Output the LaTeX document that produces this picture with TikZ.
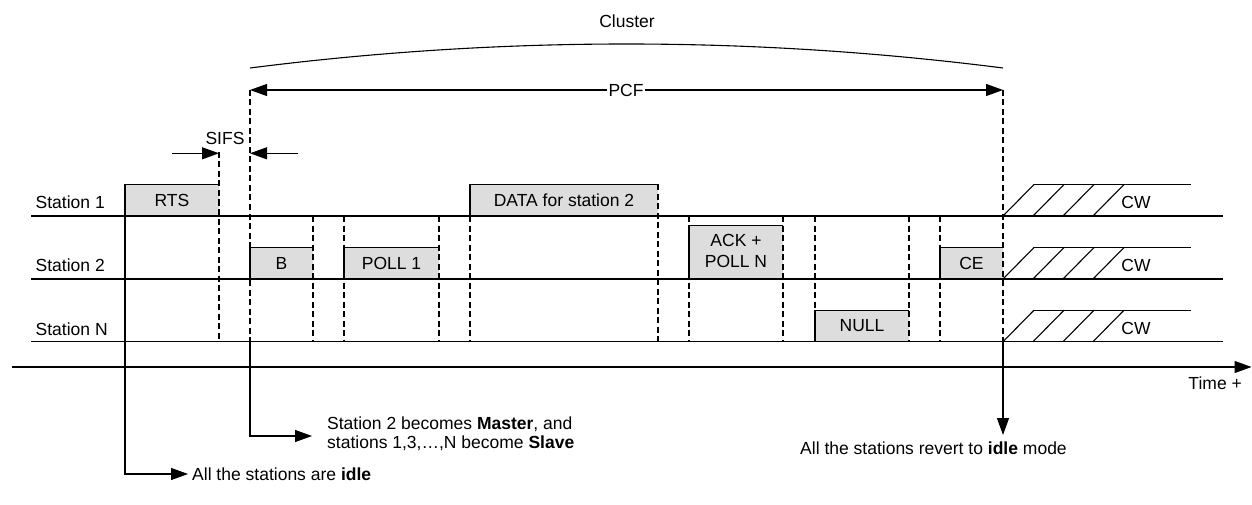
\documentclass[tikz,border=0pt]{standalone}
\usepackage{fontspec}
\setmainfont{Liberation Sans}
\usetikzlibrary{arrows.meta}
\definecolor{boxgray}{RGB}{221,221,221}
\begin{document}
\begin{tikzpicture}[x=1pt,y=-1pt,
  txt/.style={inner sep=0pt,font=\fontsize{17.5}{20}\selectfont},
  tline/.style={line width=1.1pt},
  thindash/.style={line width=1.2pt,dash pattern=on 6pt off 3.5pt},
  thickdash/.style={line width=2pt,dash pattern=on 6pt off 3.5pt},
  arr/.style={-{Triangle[length=17pt,width=12pt]},line width=1.1pt}]
\useasboundingbox (0,0) rectangle (1252,505);

% box fills
\fill[boxgray] (125,184.3) rectangle (219,216);
\fill[boxgray] (250,247.7) rectangle (313,279);
\fill[boxgray] (344,247.7) rectangle (439,279);
\fill[boxgray] (470,184.3) rectangle (658,216);
\fill[boxgray] (689,225.7) rectangle (783,279);
\fill[boxgray] (815,310.3) rectangle (909,341.7);
\fill[boxgray] (940,247.7) rectangle (1003,279);

% box outlines (top and left)
\draw[tline] (125,216) |- (219,184.3);
\draw[tline] (250,279) |- (313,247.7);
\draw[tline] (344,279) |- (439,247.7);
\draw[tline] (470,216) |- (658,184.3);
\draw[tline] (689,279) |- (783,225.7);
\draw[tline] (815,341.7) |- (909,310.3);
\draw[tline] (940,279) |- (1003,247.7);

% dashed verticals
\draw[thindash] (219,152) -- (219,341.7);
\draw[thindash] (250,90) -- (250,341.7);
\draw[thindash] (313,216) -- (313,341.7);
\draw[thindash] (344,216) -- (344,341.7);
\draw[thindash] (439,216) -- (439,341.7);
\draw[thickdash] (470,216) -- (470,341.7);
\draw[thickdash] (658,184.3) -- (658,341.7);
\draw[thindash] (689,216) -- (689,341.7);
\draw[thindash] (783,216) -- (783,341.7);
\draw[thickdash] (815,216) -- (815,341.7);
\draw[thickdash] (909,216) -- (909,341.7);
\draw[thindash] (940,216) -- (940,341.7);
\draw[thickdash] (1003,90) -- (1003,341.7);

% station lines
\draw[tline] (31,216) -- (1223,216);
\draw[tline] (31,279) -- (1223,279);
\draw[tline] (31,341.7) -- (1223,341.7);

% station labels
\node[txt,anchor=west] (s1) at (35.5,202) {Station 1};
\node[txt,anchor=west] (s2) at (35.5,265) {Station 2};
\node[txt,anchor=west] (sN) at (35.5,329) {Station N};

% box labels
\node[txt] (rts) at (172,200) {RTS};
\node[txt] (b) at (281.5,263.5) {B};
\node[txt] (poll1) at (391.5,263.5) {POLL 1};
\node[txt] (data) at (564,200) {DATA for station 2};
\node[txt,align=center,font=\fontsize{17.5}{21}\selectfont] (ack) at (736,251) {ACK +\\POLL N};
\node[txt] (null) at (862,326) {NULL};
\node[txt] (ce) at (971.5,263.5) {CE};

% contention windows
\foreach \yb/\nm in {216/cw1,279/cw2,341.7/cw3}{
  \pgfmathsetmacro{\yt}{\yb-31.5}
  \draw[tline] (1034,\yt) -- (1191,\yt);
  \draw[tline] (1003,\yb) -- (1034,\yt);
  \draw[tline] (1033,\yb) -- (1064,\yt);
  \draw[tline] (1063,\yb) -- (1094,\yt);
  \draw[tline] (1093,\yb) -- (1124,\yt);
  \node[txt] (\nm) at (1136,\yb-13.5) {CW};
}

% SIFS
\node[txt] (sifs) at (225,138) {SIFS};
\coordinate (sifsL) at (172,153.3);
\coordinate (sifsLt) at (219,153.3);
\coordinate (sifsR) at (298,153.3);
\coordinate (sifsRt) at (250,153.3);
\draw[arr] (sifsL) -- (sifsLt);
\draw[arr] (sifsR) -- (sifsRt);

% PCF
\node[txt,inner xsep=1pt] (pcf) at (626,90) {PCF};
\coordinate (pcfL) at (250,90);
\coordinate (pcfR) at (1003,90);
\draw[arr] (pcf.west) -- (pcfL);
\draw[arr] (pcf.east) -- (pcfR);

% Cluster
\node[txt] (cluster) at (627,21) {Cluster};
\coordinate (clL) at (250,68);
\coordinate (clR) at (1003,68);
\draw[tline] (clL) .. controls (501,36) and (752,36) .. (clR);

% time axis
\coordinate (t0) at (12,367);
\coordinate (t1) at (1251.5,367);
\draw[arr] (t0) -- (t1);
\node[txt,anchor=east] (time) at (1242,383) {Time +};

% annotations
\node[txt,anchor=west] (idle) at (192,474) {All the stations are \textbf{idle}};
\coordinate (idleS) at (125,184.3);
\coordinate (idleT) at (188,474);
\draw[arr] (idleS) |- (idleT);

\node[txt,anchor=west,align=left,font=\fontsize{17.5}{18.5}\selectfont] (master) at (327,434) {Station 2 becomes \textbf{Master}, and\\stations 1,3,\dots,N become \textbf{Slave}};
\coordinate (mS) at (250,341.7);
\coordinate (mT) at (312,436);
\draw[arr] (mS) |- (mT);

\node[txt,anchor=west] (revert) at (800,448) {All the stations revert to \textbf{idle} mode};
\coordinate (rS) at (1003,341.7);
\coordinate (rT) at (1003,435);
\draw[arr] (rS) -- (rT);
\end{tikzpicture}
\end{document}
